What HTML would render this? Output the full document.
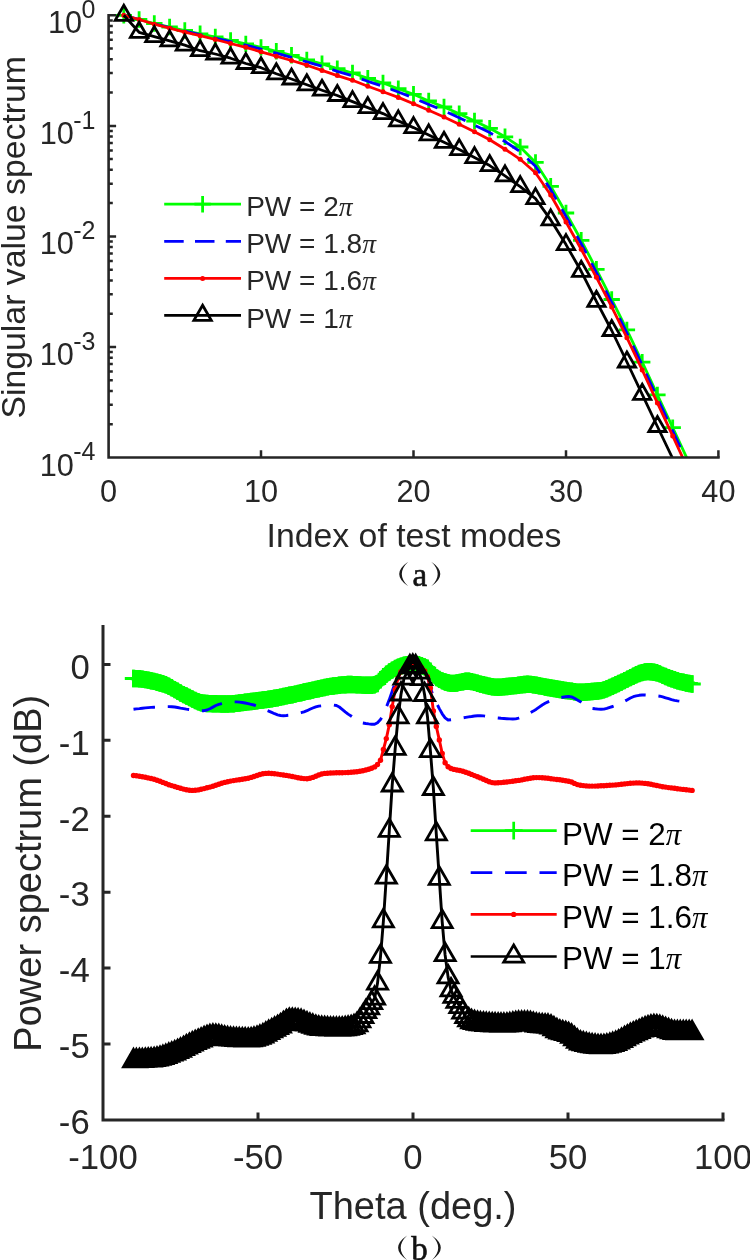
<!DOCTYPE html>
<html><head><meta charset="utf-8"><style>html,body{margin:0;padding:0;background:#fff;width:750px;height:1260px;overflow:hidden;position:relative}</style></head>
<body>
<svg width="750" height="1260" viewBox="0 0 750 1260" style="position:absolute;left:0;top:0;will-change:transform">
<rect width="750" height="1260" fill="#fff"/>
<defs><clipPath id="c1"><rect x="108.6" y="0" width="614.8" height="457.5"/></clipPath>
<clipPath id="c2"><rect x="0" y="0" width="750" height="1120"/></clipPath></defs>
<g clip-path="url(#c1)">
<path d="M123.8 15.3 L139.1 19.5 L154.3 23.5 L169.6 27 L184.8 30.5 L200.1 33.8 L215.3 37 L230.6 40.5 L245.8 43.9 L261 47.4 L276.3 51.3 L291.5 55.3 L306.8 59.9 L322 63.8 L337.3 68.6 L352.5 73 L367.8 78.3 L383 83 L398.3 88.7 L413.5 94.3 L428.7 101 L444 107 L459.2 113.7 L474.5 121 L489.7 128.3 L505 136.8 L520.2 147 L535.5 162.4 L550.7 186.3 L566 213 L581.2 240.3 L596.4 269.3 L611.7 299.5 L626.9 329.9 L642.2 362.2 L657.4 394.9 L672.7 427.6 L687.9 460.3" fill="none" stroke="#00ff00" stroke-width="2.8" stroke-linejoin="round"/>
<path d="M115.6 15.3H132M123.8 7.1V23.5M130.9 19.5H147.3M139.1 11.3V27.7M146.1 23.5H162.5M154.3 15.3V31.7M161.4 27H177.8M169.6 18.8V35.2M176.6 30.5H193M184.8 22.3V38.7M191.9 33.8H208.3M200.1 25.6V42M207.1 37H223.5M215.3 28.8V45.2M222.4 40.5H238.8M230.6 32.3V48.7M237.6 43.9H254M245.8 35.7V52.1M252.8 47.4H269.2M261 39.2V55.6M268.1 51.3H284.5M276.3 43.1V59.5M283.3 55.3H299.7M291.5 47.1V63.5M298.6 59.9H315M306.8 51.7V68.1M313.8 63.8H330.2M322 55.6V72M329.1 68.6H345.5M337.3 60.4V76.8M344.3 73H360.7M352.5 64.8V81.2M359.6 78.3H376M367.8 70.1V86.5M374.8 83H391.2M383 74.8V91.2M390.1 88.7H406.5M398.3 80.5V96.9M405.3 94.3H421.7M413.5 86.1V102.5M420.5 101H436.9M428.7 92.8V109.2M435.8 107H452.2M444 98.8V115.2M451 113.7H467.4M459.2 105.5V121.9M466.3 121H482.7M474.5 112.8V129.2M481.5 128.3H497.9M489.7 120.1V136.5M496.8 136.8H513.2M505 128.6V145M512 147H528.4M520.2 138.8V155.2M527.3 162.4H543.7M535.5 154.2V170.6M542.5 186.3H558.9M550.7 178.1V194.5M557.8 213H574.2M566 204.8V221.2M573 240.3H589.4M581.2 232.1V248.5M588.2 269.3H604.6M596.4 261.1V277.5M603.5 299.5H619.9M611.7 291.3V307.7M618.7 329.9H635.1M626.9 321.7V338.1M634 362.2H650.4M642.2 354V370.4M649.2 394.9H665.6M657.4 386.7V403.1M664.5 427.6H680.9M672.7 419.4V435.8" stroke="#00ff00" stroke-width="2.8" fill="none"/>
<path d="M123.8 15.3 L139.1 19.5 L154.3 23.8 L169.6 27.5 L184.8 31.1 L200.1 34.5 L215.3 38 L230.6 41.6 L245.8 45.2 L261 49.1 L276.3 53.2 L291.5 57.3 L306.8 61.9 L322 66.3 L337.3 71.3 L352.5 75.8 L367.8 81.3 L383 86.3 L398.3 92 L413.5 97.9 L428.7 104.5 L444 110.8 L459.2 117.7 L474.5 125.1 L489.7 132.6 L505 141.5 L520.2 151.7 L535.5 166.3 L550.7 189.6 L566 216.4 L581.2 243.7 L596.4 272.3 L611.7 302.3 L626.9 332.9 L642.2 365.1 L657.4 397.9 L672.7 430.8 L687.9 463.6" fill="none" stroke="#0000ff" stroke-width="2.8" stroke-linejoin="round" stroke-dasharray="19.5 11.3"/>
<path d="M123.8 15.3 L139.1 19.5 L154.3 24.2 L169.6 28.2 L184.8 32.2 L200.1 35.7 L215.3 39.5 L230.6 43.5 L245.8 47.3 L261 51.8 L276.3 56.2 L291.5 60.5 L306.8 65.2 L322 70.4 L337.3 75.6 L352.5 80.3 L367.8 86.3 L383 91.7 L398.3 97.4 L413.5 103.7 L428.7 110.2 L444 117 L459.2 124.3 L474.5 131.7 L489.7 139.7 L505 149.2 L520.2 159.3 L535.5 172.7 L550.7 195 L566 222 L581.2 249.3 L596.4 277.3 L611.7 306.9 L626.9 337.7 L642.2 369.9 L657.4 402.9 L672.7 435.9 L687.9 469" fill="none" stroke="#ff0000" stroke-width="2.8" stroke-linejoin="round"/>
<g fill="#ff0000"><circle cx="123.8" cy="15.3" r="2.5"/><circle cx="139.1" cy="19.5" r="2.5"/><circle cx="154.3" cy="24.2" r="2.5"/><circle cx="169.6" cy="28.2" r="2.5"/><circle cx="184.8" cy="32.2" r="2.5"/><circle cx="200.1" cy="35.7" r="2.5"/><circle cx="215.3" cy="39.5" r="2.5"/><circle cx="230.6" cy="43.5" r="2.5"/><circle cx="245.8" cy="47.3" r="2.5"/><circle cx="261" cy="51.8" r="2.5"/><circle cx="276.3" cy="56.2" r="2.5"/><circle cx="291.5" cy="60.5" r="2.5"/><circle cx="306.8" cy="65.2" r="2.5"/><circle cx="322" cy="70.4" r="2.5"/><circle cx="337.3" cy="75.6" r="2.5"/><circle cx="352.5" cy="80.3" r="2.5"/><circle cx="367.8" cy="86.3" r="2.5"/><circle cx="383" cy="91.7" r="2.5"/><circle cx="398.3" cy="97.4" r="2.5"/><circle cx="413.5" cy="103.7" r="2.5"/><circle cx="428.7" cy="110.2" r="2.5"/><circle cx="444" cy="117" r="2.5"/><circle cx="459.2" cy="124.3" r="2.5"/><circle cx="474.5" cy="131.7" r="2.5"/><circle cx="489.7" cy="139.7" r="2.5"/><circle cx="505" cy="149.2" r="2.5"/><circle cx="520.2" cy="159.3" r="2.5"/><circle cx="535.5" cy="172.7" r="2.5"/><circle cx="550.7" cy="195" r="2.5"/><circle cx="566" cy="222" r="2.5"/><circle cx="581.2" cy="249.3" r="2.5"/><circle cx="596.4" cy="277.3" r="2.5"/><circle cx="611.7" cy="306.9" r="2.5"/><circle cx="626.9" cy="337.7" r="2.5"/><circle cx="642.2" cy="369.9" r="2.5"/><circle cx="657.4" cy="402.9" r="2.5"/><circle cx="672.7" cy="435.9" r="2.5"/></g>
<path d="M123.8 15.3 L139.1 32.3 L154.3 36.6 L169.6 40.9 L184.8 45.1 L200.1 50.7 L215.3 54 L230.6 58.2 L245.8 63.5 L261 67.7 L276.3 73.8 L291.5 79 L306.8 84.8 L322 90.2 L337.3 95.5 L352.5 101.6 L367.8 107.6 L383 113.6 L398.3 120.9 L413.5 127.6 L428.7 134.9 L444 142.3 L459.2 149.6 L474.5 157.6 L489.7 165.6 L505 175.9 L520.2 186.6 L535.5 198.6 L550.7 219.9 L566 244.6 L581.2 271.3 L596.4 301.3 L611.7 330.5 L626.9 362 L642.2 394.3 L657.4 426.5 L672.7 458.5" fill="none" stroke="#000000" stroke-width="2.8" stroke-linejoin="round"/>
</g>
<path d="M123.8 5.3L132.5 20.3L115.2 20.3ZM139.1 22.3L147.8 37.3L130.4 37.3ZM154.3 26.6L163 41.6L145.7 41.6ZM169.6 30.9L178.2 45.9L160.9 45.9ZM184.8 35.1L193.5 50.1L176.2 50.1ZM200.1 40.7L208.7 55.7L191.4 55.7ZM215.3 44L224 59L206.7 59ZM230.6 48.2L239.2 63.2L221.9 63.2ZM245.8 53.5L254.5 68.5L237.1 68.5ZM261 57.7L269.7 72.7L252.4 72.7ZM276.3 63.8L285 78.8L267.6 78.8ZM291.5 69L300.2 84L282.9 84ZM306.8 74.8L315.4 89.8L298.1 89.8ZM322 80.2L330.7 95.2L313.4 95.2ZM337.3 85.5L345.9 100.5L328.6 100.5ZM352.5 91.6L361.2 106.6L343.9 106.6ZM367.8 97.6L376.4 112.6L359.1 112.6ZM383 103.6L391.7 118.6L374.3 118.6ZM398.3 110.9L406.9 125.9L389.6 125.9ZM413.5 117.6L422.2 132.6L404.8 132.6ZM428.7 124.9L437.4 139.9L420.1 139.9ZM444 132.3L452.7 147.3L435.3 147.3ZM459.2 139.6L467.9 154.6L450.6 154.6ZM474.5 147.6L483.1 162.6L465.8 162.6ZM489.7 155.6L498.4 170.6L481.1 170.6ZM505 165.9L513.6 180.9L496.3 180.9ZM520.2 176.6L528.9 191.6L511.6 191.6ZM535.5 188.6L544.1 203.6L526.8 203.6ZM550.7 209.9L559.4 224.9L542 224.9ZM566 234.6L574.6 249.6L557.3 249.6ZM581.2 261.3L589.9 276.3L572.5 276.3ZM596.4 291.3L605.1 306.3L587.8 306.3ZM611.7 320.5L620.3 335.5L603 335.5ZM626.9 352L635.6 367L618.3 367ZM642.2 384.3L650.8 399.3L633.5 399.3ZM657.4 416.5L666.1 431.5L648.8 431.5Z" stroke="#000" stroke-width="2.8" fill="none" stroke-linejoin="miter"/>
<g stroke="#262626" fill="none">
<path d="M108.6 14V457.5H719.7" stroke-width="2.6"/>
<path d="M108.6 424.2H112.8M108.6 404.8H112.8M108.6 390.9H112.8M108.6 380.2H112.8M108.6 371.5H112.8M108.6 364.1H112.8M108.6 357.7H112.8M108.6 352H112.8M108.6 346.9H116.1M108.6 313.7H112.8M108.6 294.2H112.8M108.6 280.4H112.8M108.6 269.7H112.8M108.6 260.9H112.8M108.6 253.5H112.8M108.6 247.1H112.8M108.6 241.5H112.8M108.6 236.4H116.1M108.6 203.1H112.8M108.6 183.7H112.8M108.6 169.8H112.8M108.6 159.1H112.8M108.6 150.4H112.8M108.6 143H112.8M108.6 136.6H112.8M108.6 130.9H112.8M108.6 125.9H116.1M108.6 92.6H112.8M108.6 73.1H112.8M108.6 59.3H112.8M108.6 48.6H112.8M108.6 39.8H112.8M108.6 32.4H112.8M108.6 26H112.8M108.6 20.4H112.8M108.6 15.3H116.1M261 457.5V450.3M413.5 457.5V450.3M566 457.5V450.3M718.4 457.5V450.3" stroke-width="2.5"/>
</g>
<g font-family="Liberation Sans" fill="#262626">
<text x="108.6" y="502" font-size="30.7" text-anchor="middle">0</text>
<text x="261" y="502" font-size="30.7" text-anchor="middle">10</text>
<text x="413.5" y="502" font-size="30.7" text-anchor="middle">20</text>
<text x="566" y="502" font-size="30.7" text-anchor="middle">30</text>
<text x="718.4" y="502" font-size="30.7" text-anchor="middle">40</text>
<text x="95.5" y="33.3" font-size="30.7" text-anchor="end">10<tspan font-size="25" dx="-0.5" dy="-15.3">0</tspan></text>
<text x="95.5" y="143.8" font-size="30.7" text-anchor="end">10<tspan font-size="25" dx="-0.5" dy="-15.3">-1</tspan></text>
<text x="95.5" y="254.4" font-size="30.7" text-anchor="end">10<tspan font-size="25" dx="-0.5" dy="-15.3">-2</tspan></text>
<text x="95.5" y="364.9" font-size="30.7" text-anchor="end">10<tspan font-size="25" dx="-0.5" dy="-15.3">-3</tspan></text>
<text x="95.5" y="475.5" font-size="30.7" text-anchor="end">10<tspan font-size="25" dx="-0.5" dy="-15.3">-4</tspan></text>
<text x="414" y="547" font-size="33.8" text-anchor="middle">Index of test modes</text>
<text transform="translate(25 237.3) rotate(-90)" font-size="33.8" text-anchor="middle">Singular value spectrum</text>
</g>
<path d="M164.2 204.2H241" stroke="#00ff00" stroke-width="2.8"/>
<path d="M194.4 204.2H210.8M202.6 196V212.4" stroke="#00ff00" stroke-width="2.8"/>
<path d="M164.2 241.4H241" stroke="#0000ff" stroke-width="2.8" stroke-dasharray="19.5 11.3"/>
<path d="M164.2 278.4H241" stroke="#ff0000" stroke-width="2.8"/>
<circle cx="202.6" cy="278.4" r="2.5" fill="#ff0000"/>
<path d="M164.2 315.3H241" stroke="#000" stroke-width="2.8"/>
<path d="M202.6 305.3L211.3 320.3L193.9 320.3Z" stroke="#000" stroke-width="2.8" fill="none"/>
<g font-family="Liberation Sans" font-size="28" fill="#262626">
<text x="246.2" y="216">PW = 2<tspan font-family="Liberation Serif" font-style="italic" font-size="27.5">π</tspan></text>
<text x="246.2" y="253.4">PW = 1.8<tspan font-family="Liberation Serif" font-style="italic" font-size="27.5">π</tspan></text>
<text x="246.2" y="290.4">PW = 1.6<tspan font-family="Liberation Serif" font-style="italic" font-size="27.5">π</tspan></text>
<text x="246.2" y="328.4">PW = 1<tspan font-family="Liberation Serif" font-style="italic" font-size="27.5">π</tspan></text>
</g>
<path d="M408.2 561.7 Q390.2 574 408.2 586.3 Q395.4 574 408.2 561.7 Z" fill="#1a1a1a"/><path d="M431.3 561.7 Q449.3 574 431.3 586.3 Q444.1 574 431.3 561.7 Z" fill="#1a1a1a"/><text x="419.8" y="585.7" font-family="Liberation Serif" font-size="33" text-anchor="middle" fill="#111" stroke="#111" stroke-width="0.6">a</text>
<g clip-path="url(#c2)">
<path d="M133.5 678.5 L136.4 678.6 L139.4 678.8 L142.3 679.1 L145.3 679.6 L148.2 680.1 L151.1 680.8 L154.1 681.4 L157 682.2 L160 683 L162.9 683.8 L165.8 684.8 L168.8 686.2 L171.7 687.8 L174.7 689.6 L177.6 691.3 L180.5 693 L183.5 694.6 L186.4 696 L189.4 697.5 L192.3 699 L195.2 700.5 L198.2 701.7 L201.1 702.7 L204.1 703.3 L207 703.5 L209.9 703.6 L212.9 703.7 L215.8 703.8 L218.8 703.9 L221.7 704 L224.6 704 L227.6 704 L230.5 703.9 L233.5 703.7 L236.4 703.4 L239.3 703 L242.3 702.6 L245.2 702.2 L248.2 701.9 L251.1 701.5 L254 701.2 L257 700.8 L259.9 700.4 L262.9 700 L265.8 699.6 L268.7 699.2 L271.7 698.7 L274.6 698.2 L277.6 697.7 L280.5 697.1 L283.4 696.5 L286.4 695.9 L289.3 695.3 L292.3 694.7 L295.2 694.1 L298.1 693.4 L301.1 692.7 L304 692 L307 691.4 L309.9 690.7 L312.8 690.1 L315.8 689.4 L318.7 688.8 L321.7 688.1 L324.6 687.5 L327.5 686.9 L330.5 686.4 L333.4 686 L336.4 685.6 L339.3 685.3 L342.2 684.9 L345.2 684.7 L348.1 684.5 L351.1 684.5 L354 684.6 L356.9 684.7 L359.9 684.9 L362.8 685.1 L365.8 685.2 L368.7 685.3 L371.6 685.2 L374.6 684.8 L377.5 683.5 L380.5 679.8 L383.4 676.7 L386.3 674.2 L389.3 672 L392.2 670.1 L395.2 668.4 L398.1 667.1 L401 666.1 L404 665.3 L406.9 664.7 L409.9 664.2 L412.8 664 L415.7 664.2 L418.7 664.8 L421.6 665.7 L424.6 666.9 L427.5 668.3 L430.4 671.2 L433.4 674.8 L436.3 677.6 L439.3 679.4 L442.2 680.9 L445.1 682 L448.1 682.8 L451 683.4 L454 683.4 L456.9 683 L459.8 682.4 L462.8 681.8 L465.7 681.3 L468.7 681.2 L471.6 681.6 L474.5 682.4 L477.5 683.3 L480.4 684.1 L483.4 684.8 L486.3 685.5 L489.2 686.2 L492.2 686.8 L495.1 687.1 L498.1 687.2 L501 687.1 L503.9 686.8 L506.9 686.5 L509.8 686.2 L512.8 685.9 L515.7 685.6 L518.6 685.2 L521.6 684.8 L524.5 684.5 L527.5 684.3 L530.4 684.4 L533.3 684.7 L536.3 685.2 L539.2 685.7 L542.2 686.4 L545.1 687 L548 687.5 L551 688 L553.9 688.5 L556.9 689 L559.8 689.5 L562.7 690 L565.7 690.5 L568.6 690.9 L571.6 691.3 L574.5 691.8 L577.4 692.2 L580.4 692.3 L583.3 692.2 L586.3 692 L589.2 691.8 L592.1 691.5 L595.1 691.3 L598 691 L601 690.6 L603.9 689.9 L606.8 688.8 L609.8 687.5 L612.7 686.2 L615.7 684.8 L618.6 683.5 L621.5 682.1 L624.5 680.6 L627.4 679.1 L630.4 677.6 L633.3 676.2 L636.2 674.7 L639.2 673.5 L642.1 672.6 L645.1 671.9 L648 671.6 L650.9 671.8 L653.9 672.2 L656.8 672.8 L659.8 673.9 L662.7 675.4 L665.6 676.5 L668.6 677.7 L671.5 678.8 L674.5 679.8 L677.4 680.8 L680.3 681.6 L683.3 682.3 L686.2 683 L689.2 683.5 L692.1 684" fill="none" stroke="#00ff00" stroke-width="2.9" stroke-linejoin="round"/>
<path d="M124.8 678.5H142.2M133.5 669.8V687.2M127.7 678.6H145.1M136.4 669.9V687.3M130.7 678.8H148.1M139.4 670.1V687.5M133.6 679.1H151M142.3 670.4V687.8M136.6 679.6H154M145.3 670.9V688.3M139.5 680.1H156.9M148.2 671.4V688.8M142.4 680.8H159.8M151.1 672.1V689.5M145.4 681.4H162.8M154.1 672.7V690.1M148.3 682.2H165.7M157 673.5V690.9M151.3 683H168.7M160 674.3V691.7M154.2 683.8H171.6M162.9 675.1V692.5M157.1 684.8H174.5M165.8 676.1V693.5M160.1 686.2H177.5M168.8 677.5V694.9M163 687.8H180.4M171.7 679.1V696.5M166 689.6H183.4M174.7 680.9V698.3M168.9 691.3H186.3M177.6 682.6V700M171.8 693H189.2M180.5 684.3V701.7M174.8 694.6H192.2M183.5 685.9V703.3M177.7 696H195.1M186.4 687.3V704.7M180.7 697.5H198.1M189.4 688.8V706.2M183.6 699H201M192.3 690.3V707.7M186.5 700.5H203.9M195.2 691.8V709.2M189.5 701.7H206.9M198.2 693V710.4M192.4 702.7H209.8M201.1 694V711.4M195.4 703.3H212.8M204.1 694.6V712M198.3 703.5H215.7M207 694.8V712.2M201.2 703.6H218.6M209.9 694.9V712.3M204.2 703.7H221.6M212.9 695V712.4M207.1 703.8H224.5M215.8 695.1V712.5M210.1 703.9H227.5M218.8 695.2V712.6M213 704H230.4M221.7 695.3V712.7M215.9 704H233.3M224.6 695.3V712.7M218.9 704H236.3M227.6 695.3V712.7M221.8 703.9H239.2M230.5 695.2V712.6M224.8 703.7H242.2M233.5 695V712.4M227.7 703.4H245.1M236.4 694.7V712.1M230.6 703H248M239.3 694.3V711.7M233.6 702.6H251M242.3 693.9V711.3M236.5 702.2H253.9M245.2 693.5V710.9M239.5 701.9H256.9M248.2 693.2V710.6M242.4 701.5H259.8M251.1 692.8V710.2M245.3 701.2H262.7M254 692.5V709.9M248.3 700.8H265.7M257 692.1V709.5M251.2 700.4H268.6M259.9 691.7V709.1M254.2 700H271.6M262.9 691.3V708.7M257.1 699.6H274.5M265.8 690.9V708.3M260 699.2H277.4M268.7 690.5V707.9M263 698.7H280.4M271.7 690V707.4M265.9 698.2H283.3M274.6 689.5V706.9M268.9 697.7H286.3M277.6 689V706.4M271.8 697.1H289.2M280.5 688.4V705.8M274.7 696.5H292.1M283.4 687.8V705.2M277.7 695.9H295.1M286.4 687.2V704.6M280.6 695.3H298M289.3 686.6V704M283.6 694.7H301M292.3 686V703.4M286.5 694.1H303.9M295.2 685.4V702.8M289.4 693.4H306.8M298.1 684.7V702.1M292.4 692.7H309.8M301.1 684V701.4M295.3 692H312.7M304 683.3V700.7M298.3 691.4H315.7M307 682.7V700.1M301.2 690.7H318.6M309.9 682V699.4M304.1 690.1H321.5M312.8 681.4V698.8M307.1 689.4H324.5M315.8 680.7V698.1M310 688.8H327.4M318.7 680.1V697.5M313 688.1H330.4M321.7 679.4V696.8M315.9 687.5H333.3M324.6 678.8V696.2M318.8 686.9H336.2M327.5 678.2V695.6M321.8 686.4H339.2M330.5 677.7V695.1M324.7 686H342.1M333.4 677.3V694.7M327.7 685.6H345.1M336.4 676.9V694.3M330.6 685.3H348M339.3 676.6V694M333.5 684.9H350.9M342.2 676.2V693.6M336.5 684.7H353.9M345.2 676V693.4M339.4 684.5H356.8M348.1 675.8V693.2M342.4 684.5H359.8M351.1 675.8V693.2M345.3 684.6H362.7M354 675.9V693.3M348.2 684.7H365.6M356.9 676V693.4M351.2 684.9H368.6M359.9 676.2V693.6M354.1 685.1H371.5M362.8 676.4V693.8M357.1 685.2H374.5M365.8 676.5V693.9M360 685.3H377.4M368.7 676.6V694M362.9 685.2H380.3M371.6 676.5V693.9M365.9 684.8H383.3M374.6 676.1V693.5M368.8 683.5H386.2M377.5 674.8V692.2M371.8 679.8H389.2M380.5 671.1V688.5M374.7 676.7H392.1M383.4 668V685.4M377.6 674.2H395M386.3 665.5V682.9M380.6 672H398M389.3 663.3V680.7M383.5 670.1H400.9M392.2 661.4V678.8M386.5 668.4H403.9M395.2 659.7V677.1M389.4 667.1H406.8M398.1 658.4V675.8M392.3 666.1H409.7M401 657.4V674.8M395.3 665.3H412.7M404 656.6V674M398.2 664.7H415.6M406.9 656V673.4M401.2 664.2H418.6M409.9 655.5V672.9M404.1 664H421.5M412.8 655.3V672.7M407 664.2H424.4M415.7 655.5V672.9M410 664.8H427.4M418.7 656.1V673.5M412.9 665.7H430.3M421.6 657V674.4M415.9 666.9H433.3M424.6 658.2V675.6M418.8 668.3H436.2M427.5 659.6V677M421.7 671.2H439.1M430.4 662.5V679.9M424.7 674.8H442.1M433.4 666.1V683.5M427.6 677.6H445M436.3 668.9V686.3M430.6 679.4H448M439.3 670.7V688.1M433.5 680.9H450.9M442.2 672.2V689.6M436.4 682H453.8M445.1 673.3V690.7M439.4 682.8H456.8M448.1 674.1V691.5M442.3 683.4H459.7M451 674.7V692.1M445.3 683.4H462.7M454 674.7V692.1M448.2 683H465.6M456.9 674.3V691.7M451.1 682.4H468.5M459.8 673.7V691.1M454.1 681.8H471.5M462.8 673.1V690.5M457 681.3H474.4M465.7 672.6V690M460 681.2H477.4M468.7 672.5V689.9M462.9 681.6H480.3M471.6 672.9V690.3M465.8 682.4H483.2M474.5 673.7V691.1M468.8 683.3H486.2M477.5 674.6V692M471.7 684.1H489.1M480.4 675.4V692.8M474.7 684.8H492.1M483.4 676.1V693.5M477.6 685.5H495M486.3 676.8V694.2M480.5 686.2H497.9M489.2 677.5V694.9M483.5 686.8H500.9M492.2 678.1V695.5M486.4 687.1H503.8M495.1 678.4V695.8M489.4 687.2H506.8M498.1 678.5V695.9M492.3 687.1H509.7M501 678.4V695.8M495.2 686.8H512.6M503.9 678.1V695.5M498.2 686.5H515.6M506.9 677.8V695.2M501.1 686.2H518.5M509.8 677.5V694.9M504.1 685.9H521.5M512.8 677.2V694.6M507 685.6H524.4M515.7 676.9V694.3M509.9 685.2H527.3M518.6 676.5V693.9M512.9 684.8H530.3M521.6 676.1V693.5M515.8 684.5H533.2M524.5 675.8V693.2M518.8 684.3H536.2M527.5 675.6V693M521.7 684.4H539.1M530.4 675.7V693.1M524.6 684.7H542M533.3 676V693.4M527.6 685.2H545M536.3 676.5V693.9M530.5 685.7H547.9M539.2 677V694.4M533.5 686.4H550.9M542.2 677.7V695.1M536.4 687H553.8M545.1 678.3V695.7M539.3 687.5H556.7M548 678.8V696.2M542.3 688H559.7M551 679.3V696.7M545.2 688.5H562.6M553.9 679.8V697.2M548.2 689H565.6M556.9 680.3V697.7M551.1 689.5H568.5M559.8 680.8V698.2M554 690H571.4M562.7 681.3V698.7M557 690.5H574.4M565.7 681.8V699.2M559.9 690.9H577.3M568.6 682.2V699.6M562.9 691.3H580.3M571.6 682.6V700M565.8 691.8H583.2M574.5 683.1V700.5M568.7 692.2H586.1M577.4 683.5V700.9M571.7 692.3H589.1M580.4 683.6V701M574.6 692.2H592M583.3 683.5V700.9M577.6 692H595M586.3 683.3V700.7M580.5 691.8H597.9M589.2 683.1V700.5M583.4 691.5H600.8M592.1 682.8V700.2M586.4 691.3H603.8M595.1 682.6V700M589.3 691H606.7M598 682.3V699.7M592.3 690.6H609.7M601 681.9V699.3M595.2 689.9H612.6M603.9 681.2V698.6M598.1 688.8H615.5M606.8 680.1V697.5M601.1 687.5H618.5M609.8 678.8V696.2M604 686.2H621.4M612.7 677.5V694.9M607 684.8H624.4M615.7 676.1V693.5M609.9 683.5H627.3M618.6 674.8V692.2M612.8 682.1H630.2M621.5 673.4V690.8M615.8 680.6H633.2M624.5 671.9V689.3M618.7 679.1H636.1M627.4 670.4V687.8M621.7 677.6H639.1M630.4 668.9V686.3M624.6 676.2H642M633.3 667.5V684.9M627.5 674.7H644.9M636.2 666V683.4M630.5 673.5H647.9M639.2 664.8V682.2M633.4 672.6H650.8M642.1 663.9V681.3M636.4 671.9H653.8M645.1 663.2V680.6M639.3 671.6H656.7M648 662.9V680.3M642.2 671.8H659.6M650.9 663.1V680.5M645.2 672.2H662.6M653.9 663.5V680.9M648.1 672.8H665.5M656.8 664.1V681.5M651.1 673.9H668.5M659.8 665.2V682.6M654 675.4H671.4M662.7 666.7V684.1M656.9 676.5H674.3M665.6 667.8V685.2M659.9 677.7H677.3M668.6 669V686.4M662.8 678.8H680.2M671.5 670.1V687.5M665.8 679.8H683.2M674.5 671.1V688.5M668.7 680.8H686.1M677.4 672.1V689.5M671.6 681.6H689M680.3 672.9V690.3M674.6 682.3H692M683.3 673.6V691M677.5 683H694.9M686.2 674.3V691.7M680.5 683.5H697.9M689.2 674.8V692.2M683.4 684H700.8M692.1 675.3V692.7" stroke="#00ff00" stroke-width="2.9" fill="none"/>
<path d="M132.2 669.8 L133.5 669.8 L136.4 669.9 L139.4 670.1 L142.3 670.4 L145.3 670.9 L148.2 671.4 L151.1 672.1 L154.1 672.7 L157 673.5 L160 674.3 L162.9 675.1 L165.8 676.1 L168.8 677.5 L171.7 679.1 L174.7 680.9 L177.6 682.6 L180.5 684.3 L183.5 685.9 L186.4 687.3 L189.4 688.8 L192.3 690.3 L195.2 691.8 L198.2 693 L201.1 694 L204.1 694.6 L207 694.8 L209.9 694.9 L212.9 695 L215.8 695.1 L218.8 695.2 L221.7 695.3 L224.6 695.3 L227.6 695.3 L230.5 695.2 L233.5 695 L236.4 694.7 L239.3 694.3 L242.3 693.9 L245.2 693.5 L248.2 693.2 L251.1 692.8 L254 692.5 L257 692.1 L259.9 691.7 L262.9 691.3 L265.8 690.9 L268.7 690.5 L271.7 690 L274.6 689.5 L277.6 689 L280.5 688.4 L283.4 687.8 L286.4 687.2 L289.3 686.6 L292.3 686 L295.2 685.4 L298.1 684.7 L301.1 684 L304 683.3 L307 682.7 L309.9 682 L312.8 681.4 L315.8 680.7 L318.7 680.1 L321.7 679.4 L324.6 678.8 L327.5 678.2 L330.5 677.7 L333.4 677.3 L336.4 676.9 L339.3 676.6 L342.2 676.2 L345.2 676 L348.1 675.8 L351.1 675.8 L354 675.9 L356.9 676 L359.9 676.2 L362.8 676.4 L365.8 676.5 L368.7 676.6 L371.6 676.5 L374.6 676.1 L377.5 674.8 L380.5 671.1 L383.4 668 L386.3 665.5 L389.3 663.3 L392.2 661.4 L395.2 659.7 L398.1 658.4 L401 657.4 L404 656.6 L406.9 656 L409.9 655.5 L412.8 655.3 L415.7 655.5 L418.7 656.1 L421.6 657 L424.6 658.2 L427.5 659.6 L430.4 662.5 L433.4 666.1 L436.3 668.9 L439.3 670.7 L442.2 672.2 L445.1 673.3 L448.1 674.1 L451 674.7 L454 674.7 L456.9 674.3 L459.8 673.7 L462.8 673.1 L465.7 672.6 L468.7 672.5 L471.6 672.9 L474.5 673.7 L477.5 674.6 L480.4 675.4 L483.4 676.1 L486.3 676.8 L489.2 677.5 L492.2 678.1 L495.1 678.4 L498.1 678.5 L501 678.4 L503.9 678.1 L506.9 677.8 L509.8 677.5 L512.8 677.2 L515.7 676.9 L518.6 676.5 L521.6 676.1 L524.5 675.8 L527.5 675.6 L530.4 675.7 L533.3 676 L536.3 676.5 L539.2 677 L542.2 677.7 L545.1 678.3 L548 678.8 L551 679.3 L553.9 679.8 L556.9 680.3 L559.8 680.8 L562.7 681.3 L565.7 681.8 L568.6 682.2 L571.6 682.6 L574.5 683.1 L577.4 683.5 L580.4 683.6 L583.3 683.5 L586.3 683.3 L589.2 683.1 L592.1 682.8 L595.1 682.6 L598 682.3 L601 681.9 L603.9 681.2 L606.8 680.1 L609.8 678.8 L612.7 677.5 L615.7 676.1 L618.6 674.8 L621.5 673.4 L624.5 671.9 L627.4 670.4 L630.4 668.9 L633.3 667.5 L636.2 666 L639.2 664.8 L642.1 663.9 L645.1 663.2 L648 662.9 L650.9 663.1 L653.9 663.5 L656.8 664.1 L659.8 665.2 L662.7 666.7 L665.6 667.8 L668.6 669 L671.5 670.1 L674.5 671.1 L677.4 672.1 L680.3 672.9 L683.3 673.6 L686.2 674.3 L689.2 674.8 L692.1 675.3 L693.5 675.3 L693.5 692.7 L692.1 692.7 L689.2 692.2 L686.2 691.7 L683.3 691 L680.3 690.3 L677.4 689.5 L674.5 688.5 L671.5 687.5 L668.6 686.4 L665.6 685.2 L662.7 684.1 L659.8 682.6 L656.8 681.5 L653.9 680.9 L650.9 680.5 L648 680.3 L645.1 680.6 L642.1 681.3 L639.2 682.2 L636.2 683.4 L633.3 684.9 L630.4 686.3 L627.4 687.8 L624.5 689.3 L621.5 690.8 L618.6 692.2 L615.7 693.5 L612.7 694.9 L609.8 696.2 L606.8 697.5 L603.9 698.6 L601 699.3 L598 699.7 L595.1 700 L592.1 700.2 L589.2 700.5 L586.3 700.7 L583.3 700.9 L580.4 701 L577.4 700.9 L574.5 700.5 L571.6 700 L568.6 699.6 L565.7 699.2 L562.7 698.7 L559.8 698.2 L556.9 697.7 L553.9 697.2 L551 696.7 L548 696.2 L545.1 695.7 L542.2 695.1 L539.2 694.4 L536.3 693.9 L533.3 693.4 L530.4 693.1 L527.5 693 L524.5 693.2 L521.6 693.5 L518.6 693.9 L515.7 694.3 L512.8 694.6 L509.8 694.9 L506.9 695.2 L503.9 695.5 L501 695.8 L498.1 695.9 L495.1 695.8 L492.2 695.5 L489.2 694.9 L486.3 694.2 L483.4 693.5 L480.4 692.8 L477.5 692 L474.5 691.1 L471.6 690.3 L468.7 689.9 L465.7 690 L462.8 690.5 L459.8 691.1 L456.9 691.7 L454 692.1 L451 692.1 L448.1 691.5 L445.1 690.7 L442.2 689.6 L439.3 688.1 L436.3 686.3 L433.4 683.5 L430.4 679.9 L427.5 677 L424.6 675.6 L421.6 674.4 L418.7 673.5 L415.7 672.9 L412.8 672.7 L409.9 672.9 L406.9 673.4 L404 674 L401 674.8 L398.1 675.8 L395.2 677.1 L392.2 678.8 L389.3 680.7 L386.3 682.9 L383.4 685.4 L380.5 688.5 L377.5 692.2 L374.6 693.5 L371.6 693.9 L368.7 694 L365.8 693.9 L362.8 693.8 L359.9 693.6 L356.9 693.4 L354 693.3 L351.1 693.2 L348.1 693.2 L345.2 693.4 L342.2 693.6 L339.3 694 L336.4 694.3 L333.4 694.7 L330.5 695.1 L327.5 695.6 L324.6 696.2 L321.7 696.8 L318.7 697.5 L315.8 698.1 L312.8 698.8 L309.9 699.4 L307 700.1 L304 700.7 L301.1 701.4 L298.1 702.1 L295.2 702.8 L292.3 703.4 L289.3 704 L286.4 704.6 L283.4 705.2 L280.5 705.8 L277.6 706.4 L274.6 706.9 L271.7 707.4 L268.7 707.9 L265.8 708.3 L262.9 708.7 L259.9 709.1 L257 709.5 L254 709.9 L251.1 710.2 L248.2 710.6 L245.2 710.9 L242.3 711.3 L239.3 711.7 L236.4 712.1 L233.5 712.4 L230.5 712.6 L227.6 712.7 L224.6 712.7 L221.7 712.7 L218.8 712.6 L215.8 712.5 L212.9 712.4 L209.9 712.3 L207 712.2 L204.1 712 L201.1 711.4 L198.2 710.4 L195.2 709.2 L192.3 707.7 L189.4 706.2 L186.4 704.7 L183.5 703.3 L180.5 701.7 L177.6 700 L174.7 698.3 L171.7 696.5 L168.8 694.9 L165.8 693.5 L162.9 692.5 L160 691.7 L157 690.9 L154.1 690.1 L151.1 689.5 L148.2 688.8 L145.3 688.3 L142.3 687.8 L139.4 687.5 L136.4 687.3 L133.5 687.2 L132.2 687.2Z" fill="#00ff00"/>
<path d="M133.5 709.3 L136.4 708.9 L139.4 708.6 L142.3 708.2 L145.3 707.9 L148.2 707.6 L151.1 707.4 L154.1 707.2 L157 707 L160 706.9 L162.9 706.7 L165.8 706.6 L168.8 706.6 L171.7 706.7 L174.7 707 L177.6 707.5 L180.5 708.1 L183.5 708.6 L186.4 709.1 L189.4 709.5 L192.3 709.9 L195.2 710.2 L198.2 710.6 L201.1 710.8 L204.1 710.7 L207 710 L209.9 708.7 L212.9 707.1 L215.8 705.5 L218.8 704.3 L221.7 703.7 L224.6 703.1 L227.6 702.6 L230.5 702.2 L233.5 701.9 L236.4 701.9 L239.3 702.1 L242.3 702.5 L245.2 703 L248.2 703.6 L251.1 704.3 L254 705 L257 706 L259.9 707.2 L262.9 708.6 L265.8 709.9 L268.7 711.1 L271.7 712.4 L274.6 713.7 L277.6 714.8 L280.5 715.5 L283.4 715.7 L286.4 715.5 L289.3 715.2 L292.3 714.7 L295.2 714.1 L298.1 713.4 L301.1 712.7 L304 711.9 L307 710.7 L309.9 709.3 L312.8 708 L315.8 706.8 L318.7 706.1 L321.7 705.8 L324.6 705.5 L327.5 705.2 L330.5 705.1 L333.4 705 L336.4 705.5 L339.3 707 L342.2 709.3 L345.2 711.8 L348.1 714.1 L351.1 716 L354 718.1 L356.9 720.1 L359.9 721.8 L362.8 723 L365.8 723.5 L368.7 723.9 L371.6 724.2 L374.6 724.3 L377.5 722.8 L380.5 719.6 L383.4 714.8 L386.3 707.4 L389.3 699.6 L392.2 691.1 L395.2 683.1 L398.1 675.5 L401 670.6 L404 667.3 L406.9 665.7 L409.9 664.8 L412.8 664.4 L415.7 664.7 L418.7 665.5 L421.6 666.9 L424.6 669.9 L427.5 676.3 L430.4 688.2 L433.4 696.1 L436.3 702.6 L439.3 708.6 L442.2 713.8 L445.1 717.9 L448.1 720 L451 719.8 L454 719.4 L456.9 718.9 L459.8 718.4 L462.8 717.9 L465.7 717.4 L468.7 716.9 L471.6 716.5 L474.5 716 L477.5 715.8 L480.4 715.7 L483.4 715.9 L486.3 716.3 L489.2 716.8 L492.2 717.3 L495.1 717.7 L498.1 718 L501 718.3 L503.9 718.5 L506.9 718.7 L509.8 718.9 L512.8 719 L515.7 718.9 L518.6 718.2 L521.6 717.1 L524.5 715.8 L527.5 714.2 L530.4 712.7 L533.3 711.1 L536.3 709.2 L539.2 707.1 L542.2 705 L545.1 703.3 L548 701.9 L551 700.7 L553.9 699.5 L556.9 698.6 L559.8 697.8 L562.7 697.2 L565.7 696.8 L568.6 696.5 L571.6 696.9 L574.5 698.3 L577.4 700 L580.4 701.7 L583.3 703.8 L586.3 705.9 L589.2 707.6 L592.1 708.4 L595.1 708.8 L598 709.1 L601 709.3 L603.9 709.1 L606.8 708.4 L609.8 707.4 L612.7 706.5 L615.7 705.3 L618.6 704 L621.5 702.7 L624.5 701.3 L627.4 699.7 L630.4 698 L633.3 696.7 L636.2 695.9 L639.2 695.3 L642.1 695 L645.1 695 L648 695.2 L650.9 695.3 L653.9 695.6 L656.8 695.8 L659.8 696.2 L662.7 696.9 L665.6 697.8 L668.6 698.7 L671.5 699.6 L674.5 700.4 L677.4 700.9 L680.3 701.3 L683.3 701.7 L686.2 702 L689.2 702.2 L692.1 702.4" fill="none" stroke="#0000ff" stroke-width="2.9" stroke-dasharray="21.6 12.8" stroke-linejoin="round"/>
<path d="M133.5 775.5 L136.4 775.8 L139.4 776.2 L142.3 776.7 L145.3 777.3 L148.2 777.9 L151.1 778.5 L154.1 779.2 L157 780.2 L160 781.2 L162.9 782.4 L165.8 783.5 L168.8 784.7 L171.7 785.6 L174.7 786.5 L177.6 787.4 L180.5 788.2 L183.5 789.1 L186.4 789.7 L189.4 790.2 L192.3 790.4 L195.2 790.3 L198.2 789.9 L201.1 789.3 L204.1 788.6 L207 787.8 L209.9 787.1 L212.9 786.3 L215.8 785.3 L218.8 784.3 L221.7 783.3 L224.6 782.4 L227.6 781.7 L230.5 781.1 L233.5 780.6 L236.4 780.1 L239.3 779.7 L242.3 779.2 L245.2 778.7 L248.2 778.2 L251.1 777.4 L254 776.5 L257 775.5 L259.9 774.5 L262.9 773.8 L265.8 773.4 L268.7 773.3 L271.7 773.5 L274.6 773.8 L277.6 774.1 L280.5 774.6 L283.4 775 L286.4 775.4 L289.3 775.9 L292.3 776.5 L295.2 777.1 L298.1 777.7 L301.1 778.3 L304 778.6 L307 778.7 L309.9 778.2 L312.8 777.4 L315.8 776.2 L318.7 775 L321.7 774 L324.6 773.4 L327.5 773.2 L330.5 773 L333.4 772.9 L336.4 772.8 L339.3 772.8 L342.2 772.7 L345.2 772.6 L348.1 772.5 L351.1 772.3 L354 772 L356.9 771.7 L359.9 771.2 L362.8 770.7 L365.8 770 L368.7 769.2 L371.6 768.3 L374.6 766.9 L377.5 764.5 L380.5 760.3 L383.4 749.5 L386.3 738.6 L389.3 724.8 L392.2 706.6 L395.2 689.5 L398.1 678.1 L401 671.7 L404 668.1 L406.9 666 L409.9 664.9 L412.8 664.4 L415.7 664.8 L418.7 665.8 L421.6 667.7 L424.6 670.9 L427.5 676.7 L430.4 687.9 L433.4 711 L436.3 726.5 L439.3 739.9 L442.2 753.4 L445.1 762.8 L448.1 766.7 L451 768.5 L454 769.4 L456.9 770 L459.8 770.5 L462.8 771.2 L465.7 772.2 L468.7 773.3 L471.6 774.4 L474.5 775.6 L477.5 776.8 L480.4 777.9 L483.4 779.2 L486.3 780.5 L489.2 781.8 L492.2 782.6 L495.1 782.9 L498.1 782.8 L501 782.6 L503.9 782.3 L506.9 782 L509.8 781.6 L512.8 781.2 L515.7 780.8 L518.6 780.4 L521.6 779.9 L524.5 779.3 L527.5 778.7 L530.4 778.2 L533.3 777.8 L536.3 777.6 L539.2 777.6 L542.2 777.8 L545.1 778 L548 778.3 L551 778.7 L553.9 779.1 L556.9 779.5 L559.8 779.8 L562.7 780.2 L565.7 780.7 L568.6 781.2 L571.6 782 L574.5 783.4 L577.4 784.6 L580.4 785.2 L583.3 785.6 L586.3 785.9 L589.2 786.1 L592.1 786.1 L595.1 786.1 L598 786 L601 785.8 L603.9 785.7 L606.8 785.5 L609.8 785.3 L612.7 785.1 L615.7 784.9 L618.6 784.6 L621.5 784.3 L624.5 783.9 L627.4 783.6 L630.4 783.3 L633.3 783.1 L636.2 782.9 L639.2 782.9 L642.1 783.1 L645.1 783.4 L648 783.8 L650.9 784.3 L653.9 784.9 L656.8 785.5 L659.8 786.1 L662.7 786.7 L665.6 787.1 L668.6 787.6 L671.5 787.9 L674.5 788.3 L677.4 788.7 L680.3 789.1 L683.3 789.4 L686.2 789.8 L689.2 790.1 L692.1 790.4" fill="none" stroke="#ff0000" stroke-width="2.9" stroke-linejoin="round"/>
<g fill="#ff0000"><circle cx="133.5" cy="775.5" r="2.7"/><circle cx="136.4" cy="775.8" r="2.7"/><circle cx="139.4" cy="776.2" r="2.7"/><circle cx="142.3" cy="776.7" r="2.7"/><circle cx="145.3" cy="777.3" r="2.7"/><circle cx="148.2" cy="777.9" r="2.7"/><circle cx="151.1" cy="778.5" r="2.7"/><circle cx="154.1" cy="779.2" r="2.7"/><circle cx="157" cy="780.2" r="2.7"/><circle cx="160" cy="781.2" r="2.7"/><circle cx="162.9" cy="782.4" r="2.7"/><circle cx="165.8" cy="783.5" r="2.7"/><circle cx="168.8" cy="784.7" r="2.7"/><circle cx="171.7" cy="785.6" r="2.7"/><circle cx="174.7" cy="786.5" r="2.7"/><circle cx="177.6" cy="787.4" r="2.7"/><circle cx="180.5" cy="788.2" r="2.7"/><circle cx="183.5" cy="789.1" r="2.7"/><circle cx="186.4" cy="789.7" r="2.7"/><circle cx="189.4" cy="790.2" r="2.7"/><circle cx="192.3" cy="790.4" r="2.7"/><circle cx="195.2" cy="790.3" r="2.7"/><circle cx="198.2" cy="789.9" r="2.7"/><circle cx="201.1" cy="789.3" r="2.7"/><circle cx="204.1" cy="788.6" r="2.7"/><circle cx="207" cy="787.8" r="2.7"/><circle cx="209.9" cy="787.1" r="2.7"/><circle cx="212.9" cy="786.3" r="2.7"/><circle cx="215.8" cy="785.3" r="2.7"/><circle cx="218.8" cy="784.3" r="2.7"/><circle cx="221.7" cy="783.3" r="2.7"/><circle cx="224.6" cy="782.4" r="2.7"/><circle cx="227.6" cy="781.7" r="2.7"/><circle cx="230.5" cy="781.1" r="2.7"/><circle cx="233.5" cy="780.6" r="2.7"/><circle cx="236.4" cy="780.1" r="2.7"/><circle cx="239.3" cy="779.7" r="2.7"/><circle cx="242.3" cy="779.2" r="2.7"/><circle cx="245.2" cy="778.7" r="2.7"/><circle cx="248.2" cy="778.2" r="2.7"/><circle cx="251.1" cy="777.4" r="2.7"/><circle cx="254" cy="776.5" r="2.7"/><circle cx="257" cy="775.5" r="2.7"/><circle cx="259.9" cy="774.5" r="2.7"/><circle cx="262.9" cy="773.8" r="2.7"/><circle cx="265.8" cy="773.4" r="2.7"/><circle cx="268.7" cy="773.3" r="2.7"/><circle cx="271.7" cy="773.5" r="2.7"/><circle cx="274.6" cy="773.8" r="2.7"/><circle cx="277.6" cy="774.1" r="2.7"/><circle cx="280.5" cy="774.6" r="2.7"/><circle cx="283.4" cy="775" r="2.7"/><circle cx="286.4" cy="775.4" r="2.7"/><circle cx="289.3" cy="775.9" r="2.7"/><circle cx="292.3" cy="776.5" r="2.7"/><circle cx="295.2" cy="777.1" r="2.7"/><circle cx="298.1" cy="777.7" r="2.7"/><circle cx="301.1" cy="778.3" r="2.7"/><circle cx="304" cy="778.6" r="2.7"/><circle cx="307" cy="778.7" r="2.7"/><circle cx="309.9" cy="778.2" r="2.7"/><circle cx="312.8" cy="777.4" r="2.7"/><circle cx="315.8" cy="776.2" r="2.7"/><circle cx="318.7" cy="775" r="2.7"/><circle cx="321.7" cy="774" r="2.7"/><circle cx="324.6" cy="773.4" r="2.7"/><circle cx="327.5" cy="773.2" r="2.7"/><circle cx="330.5" cy="773" r="2.7"/><circle cx="333.4" cy="772.9" r="2.7"/><circle cx="336.4" cy="772.8" r="2.7"/><circle cx="339.3" cy="772.8" r="2.7"/><circle cx="342.2" cy="772.7" r="2.7"/><circle cx="345.2" cy="772.6" r="2.7"/><circle cx="348.1" cy="772.5" r="2.7"/><circle cx="351.1" cy="772.3" r="2.7"/><circle cx="354" cy="772" r="2.7"/><circle cx="356.9" cy="771.7" r="2.7"/><circle cx="359.9" cy="771.2" r="2.7"/><circle cx="362.8" cy="770.7" r="2.7"/><circle cx="365.8" cy="770" r="2.7"/><circle cx="368.7" cy="769.2" r="2.7"/><circle cx="371.6" cy="768.3" r="2.7"/><circle cx="374.6" cy="766.9" r="2.7"/><circle cx="377.5" cy="764.5" r="2.7"/><circle cx="380.5" cy="760.3" r="2.7"/><circle cx="383.4" cy="749.5" r="2.7"/><circle cx="386.3" cy="738.6" r="2.7"/><circle cx="389.3" cy="724.8" r="2.7"/><circle cx="392.2" cy="706.6" r="2.7"/><circle cx="395.2" cy="689.5" r="2.7"/><circle cx="398.1" cy="678.1" r="2.7"/><circle cx="401" cy="671.7" r="2.7"/><circle cx="404" cy="668.1" r="2.7"/><circle cx="406.9" cy="666" r="2.7"/><circle cx="409.9" cy="664.9" r="2.7"/><circle cx="412.8" cy="664.4" r="2.7"/><circle cx="415.7" cy="664.8" r="2.7"/><circle cx="418.7" cy="665.8" r="2.7"/><circle cx="421.6" cy="667.7" r="2.7"/><circle cx="424.6" cy="670.9" r="2.7"/><circle cx="427.5" cy="676.7" r="2.7"/><circle cx="430.4" cy="687.9" r="2.7"/><circle cx="433.4" cy="711" r="2.7"/><circle cx="436.3" cy="726.5" r="2.7"/><circle cx="439.3" cy="739.9" r="2.7"/><circle cx="442.2" cy="753.4" r="2.7"/><circle cx="445.1" cy="762.8" r="2.7"/><circle cx="448.1" cy="766.7" r="2.7"/><circle cx="451" cy="768.5" r="2.7"/><circle cx="454" cy="769.4" r="2.7"/><circle cx="456.9" cy="770" r="2.7"/><circle cx="459.8" cy="770.5" r="2.7"/><circle cx="462.8" cy="771.2" r="2.7"/><circle cx="465.7" cy="772.2" r="2.7"/><circle cx="468.7" cy="773.3" r="2.7"/><circle cx="471.6" cy="774.4" r="2.7"/><circle cx="474.5" cy="775.6" r="2.7"/><circle cx="477.5" cy="776.8" r="2.7"/><circle cx="480.4" cy="777.9" r="2.7"/><circle cx="483.4" cy="779.2" r="2.7"/><circle cx="486.3" cy="780.5" r="2.7"/><circle cx="489.2" cy="781.8" r="2.7"/><circle cx="492.2" cy="782.6" r="2.7"/><circle cx="495.1" cy="782.9" r="2.7"/><circle cx="498.1" cy="782.8" r="2.7"/><circle cx="501" cy="782.6" r="2.7"/><circle cx="503.9" cy="782.3" r="2.7"/><circle cx="506.9" cy="782" r="2.7"/><circle cx="509.8" cy="781.6" r="2.7"/><circle cx="512.8" cy="781.2" r="2.7"/><circle cx="515.7" cy="780.8" r="2.7"/><circle cx="518.6" cy="780.4" r="2.7"/><circle cx="521.6" cy="779.9" r="2.7"/><circle cx="524.5" cy="779.3" r="2.7"/><circle cx="527.5" cy="778.7" r="2.7"/><circle cx="530.4" cy="778.2" r="2.7"/><circle cx="533.3" cy="777.8" r="2.7"/><circle cx="536.3" cy="777.6" r="2.7"/><circle cx="539.2" cy="777.6" r="2.7"/><circle cx="542.2" cy="777.8" r="2.7"/><circle cx="545.1" cy="778" r="2.7"/><circle cx="548" cy="778.3" r="2.7"/><circle cx="551" cy="778.7" r="2.7"/><circle cx="553.9" cy="779.1" r="2.7"/><circle cx="556.9" cy="779.5" r="2.7"/><circle cx="559.8" cy="779.8" r="2.7"/><circle cx="562.7" cy="780.2" r="2.7"/><circle cx="565.7" cy="780.7" r="2.7"/><circle cx="568.6" cy="781.2" r="2.7"/><circle cx="571.6" cy="782" r="2.7"/><circle cx="574.5" cy="783.4" r="2.7"/><circle cx="577.4" cy="784.6" r="2.7"/><circle cx="580.4" cy="785.2" r="2.7"/><circle cx="583.3" cy="785.6" r="2.7"/><circle cx="586.3" cy="785.9" r="2.7"/><circle cx="589.2" cy="786.1" r="2.7"/><circle cx="592.1" cy="786.1" r="2.7"/><circle cx="595.1" cy="786.1" r="2.7"/><circle cx="598" cy="786" r="2.7"/><circle cx="601" cy="785.8" r="2.7"/><circle cx="603.9" cy="785.7" r="2.7"/><circle cx="606.8" cy="785.5" r="2.7"/><circle cx="609.8" cy="785.3" r="2.7"/><circle cx="612.7" cy="785.1" r="2.7"/><circle cx="615.7" cy="784.9" r="2.7"/><circle cx="618.6" cy="784.6" r="2.7"/><circle cx="621.5" cy="784.3" r="2.7"/><circle cx="624.5" cy="783.9" r="2.7"/><circle cx="627.4" cy="783.6" r="2.7"/><circle cx="630.4" cy="783.3" r="2.7"/><circle cx="633.3" cy="783.1" r="2.7"/><circle cx="636.2" cy="782.9" r="2.7"/><circle cx="639.2" cy="782.9" r="2.7"/><circle cx="642.1" cy="783.1" r="2.7"/><circle cx="645.1" cy="783.4" r="2.7"/><circle cx="648" cy="783.8" r="2.7"/><circle cx="650.9" cy="784.3" r="2.7"/><circle cx="653.9" cy="784.9" r="2.7"/><circle cx="656.8" cy="785.5" r="2.7"/><circle cx="659.8" cy="786.1" r="2.7"/><circle cx="662.7" cy="786.7" r="2.7"/><circle cx="665.6" cy="787.1" r="2.7"/><circle cx="668.6" cy="787.6" r="2.7"/><circle cx="671.5" cy="787.9" r="2.7"/><circle cx="674.5" cy="788.3" r="2.7"/><circle cx="677.4" cy="788.7" r="2.7"/><circle cx="680.3" cy="789.1" r="2.7"/><circle cx="683.3" cy="789.4" r="2.7"/><circle cx="686.2" cy="789.8" r="2.7"/><circle cx="689.2" cy="790.1" r="2.7"/><circle cx="692.1" cy="790.4" r="2.7"/></g>
<path d="M133.5 1061 L136.4 1061 L139.4 1060.9 L142.3 1060.8 L145.3 1060.6 L148.2 1060.4 L151.1 1060.2 L154.1 1059.9 L157 1059.4 L160 1058.6 L162.9 1057.7 L165.8 1056.7 L168.8 1055.5 L171.7 1054.4 L174.7 1053.2 L177.6 1051.9 L180.5 1050.5 L183.5 1048.9 L186.4 1047.2 L189.4 1045.7 L192.3 1044.2 L195.2 1042.9 L198.2 1041.6 L201.1 1040.3 L204.1 1039 L207 1037.8 L209.9 1037 L212.9 1036.5 L215.8 1036.6 L218.8 1037 L221.7 1037.7 L224.6 1038.4 L227.6 1039 L230.5 1039.3 L233.5 1039.6 L236.4 1039.8 L239.3 1040 L242.3 1040.1 L245.2 1040.2 L248.2 1040.3 L251.1 1040.1 L254 1039.5 L257 1038.6 L259.9 1037.5 L262.9 1036.2 L265.8 1034.5 L268.7 1032.7 L271.7 1031.1 L274.6 1029.5 L277.6 1027.9 L280.5 1026.2 L283.4 1024 L286.4 1021.8 L289.3 1020.6 L292.3 1020.6 L295.2 1020.8 L298.1 1021.2 L301.1 1021.7 L304 1022.8 L307 1024.2 L309.9 1025.5 L312.8 1026.5 L315.8 1027.6 L318.7 1028.3 L321.7 1028.7 L324.6 1028.9 L327.5 1029.1 L330.5 1029.3 L333.4 1029.4 L336.4 1029.5 L339.3 1029.5 L342.2 1029.3 L345.2 1029 L348.1 1028.5 L351.1 1027.9 L354 1027 L356.9 1025 L359.9 1021 L362.8 1016.7 L365.8 1011.9 L368.7 1008 L371.6 1002.9 L374.6 998.4 L377.5 983.3 L380.5 956.6 L383.4 921 L386.3 877.4 L389.3 830.6 L392.2 785.2 L395.2 748.5 L398.1 717 L401 694.2 L404 678.4 L406.9 672.3 L409.9 667 L412.8 666.5 L415.7 667 L418.7 672.3 L421.6 678.9 L424.6 694.7 L427.5 717 L430.4 750.8 L433.4 788.7 L436.3 834 L439.3 878.6 L442.2 921.8 L445.1 954.9 L448.1 977.1 L451 990.1 L454 996.6 L456.9 1001.5 L459.8 1006.9 L462.8 1012.3 L465.7 1016.7 L468.7 1020.1 L471.6 1022 L474.5 1022.9 L477.5 1023.6 L480.4 1024.1 L483.4 1024.4 L486.3 1024.7 L489.2 1024.9 L492.2 1025.1 L495.1 1025.2 L498.1 1025.4 L501 1025.5 L503.9 1025.5 L506.9 1025.4 L509.8 1025 L512.8 1024.4 L515.7 1023.9 L518.6 1023.5 L521.6 1023.5 L524.5 1023.5 L527.5 1023.5 L530.4 1023.9 L533.3 1024.6 L536.3 1025.3 L539.2 1025.9 L542.2 1026.1 L545.1 1026.3 L548 1026.5 L551 1027.4 L553.9 1029.1 L556.9 1031 L559.8 1032.3 L562.7 1033.1 L565.7 1033.9 L568.6 1034.8 L571.6 1036.5 L574.5 1039 L577.4 1041.5 L580.4 1043.3 L583.3 1044.1 L586.3 1044.9 L589.2 1045.6 L592.1 1046.1 L595.1 1046.5 L598 1046.8 L601 1047 L603.9 1046.9 L606.8 1046.4 L609.8 1045.6 L612.7 1044.7 L615.7 1043.7 L618.6 1042.3 L621.5 1040.7 L624.5 1039 L627.4 1037.3 L630.4 1035.7 L633.3 1034.3 L636.2 1033.1 L639.2 1031.8 L642.1 1030.4 L645.1 1029.2 L648 1028.2 L650.9 1027.4 L653.9 1027 L656.8 1027.1 L659.8 1027.7 L662.7 1028.7 L665.6 1029.9 L668.6 1031 L671.5 1032.1 L674.5 1032.8 L677.4 1033 L680.3 1033 L683.3 1033 L686.2 1033 L689.2 1033 L692.1 1033" fill="none" stroke="#000" stroke-width="2.9" stroke-linejoin="round"/>
<path d="M133.5 1049.4L143.5 1066.8L123.5 1066.8ZM136.4 1049.4L146.5 1066.8L126.4 1066.8ZM139.4 1049.3L149.4 1066.7L129.3 1066.7ZM142.3 1049.2L152.4 1066.6L132.3 1066.6ZM145.3 1049L155.3 1066.4L135.2 1066.4ZM148.2 1048.8L158.2 1066.2L138.2 1066.2ZM151.1 1048.6L161.2 1066L141.1 1066ZM154.1 1048.3L164.1 1065.7L144 1065.7ZM157 1047.8L167.1 1065.2L147 1065.2ZM160 1047L170 1064.4L149.9 1064.4ZM162.9 1046.1L172.9 1063.5L152.9 1063.5ZM165.8 1045.1L175.9 1062.5L155.8 1062.5ZM168.8 1043.9L178.8 1061.3L158.7 1061.3ZM171.7 1042.8L181.8 1060.2L161.7 1060.2ZM174.7 1041.6L184.7 1059L164.6 1059ZM177.6 1040.3L187.6 1057.7L167.6 1057.7ZM180.5 1038.9L190.6 1056.3L170.5 1056.3ZM183.5 1037.3L193.5 1054.7L173.4 1054.7ZM186.4 1035.6L196.5 1053L176.4 1053ZM189.4 1034.1L199.4 1051.5L179.3 1051.5ZM192.3 1032.6L202.3 1050L182.3 1050ZM195.2 1031.3L205.3 1048.7L185.2 1048.7ZM198.2 1030L208.2 1047.4L188.1 1047.4ZM201.1 1028.7L211.2 1046.1L191.1 1046.1ZM204.1 1027.4L214.1 1044.8L194 1044.8ZM207 1026.2L217 1043.6L197 1043.6ZM209.9 1025.4L220 1042.8L199.9 1042.8ZM212.9 1024.9L222.9 1042.3L202.8 1042.3ZM215.8 1025L225.9 1042.4L205.8 1042.4ZM218.8 1025.4L228.8 1042.8L208.7 1042.8ZM221.7 1026.1L231.7 1043.5L211.7 1043.5ZM224.6 1026.8L234.7 1044.2L214.6 1044.2ZM227.6 1027.4L237.6 1044.8L217.5 1044.8ZM230.5 1027.7L240.6 1045.1L220.5 1045.1ZM233.5 1028L243.5 1045.4L223.4 1045.4ZM236.4 1028.2L246.4 1045.6L226.4 1045.6ZM239.3 1028.4L249.4 1045.8L229.3 1045.8ZM242.3 1028.5L252.3 1045.9L232.2 1045.9ZM245.2 1028.6L255.3 1046L235.2 1046ZM248.2 1028.7L258.2 1046.1L238.1 1046.1ZM251.1 1028.5L261.1 1045.9L241.1 1045.9ZM254 1027.9L264.1 1045.3L244 1045.3ZM257 1027L267 1044.4L246.9 1044.4ZM259.9 1025.9L270 1043.3L249.9 1043.3ZM262.9 1024.6L272.9 1042L252.8 1042ZM265.8 1022.9L275.8 1040.3L255.8 1040.3ZM268.7 1021.1L278.8 1038.5L258.7 1038.5ZM271.7 1019.5L281.7 1036.9L261.6 1036.9ZM274.6 1017.9L284.7 1035.3L264.6 1035.3ZM277.6 1016.3L287.6 1033.7L267.5 1033.7ZM280.5 1014.6L290.5 1032L270.5 1032ZM283.4 1012.4L293.5 1029.8L273.4 1029.8ZM286.4 1010.2L296.4 1027.6L276.3 1027.6ZM289.3 1009L299.4 1026.4L279.3 1026.4ZM292.3 1009L302.3 1026.4L282.2 1026.4ZM295.2 1009.2L305.2 1026.6L285.2 1026.6ZM298.1 1009.6L308.2 1027L288.1 1027ZM301.1 1010.1L311.1 1027.5L291 1027.5ZM304 1011.2L314.1 1028.6L294 1028.6ZM307 1012.6L317 1030L296.9 1030ZM309.9 1013.9L319.9 1031.3L299.9 1031.3ZM312.8 1014.9L322.9 1032.3L302.8 1032.3ZM315.8 1016L325.8 1033.4L305.7 1033.4ZM318.7 1016.7L328.8 1034.1L308.7 1034.1ZM321.7 1017.1L331.7 1034.5L311.6 1034.5ZM324.6 1017.3L334.6 1034.7L314.6 1034.7ZM327.5 1017.5L337.6 1034.9L317.5 1034.9ZM330.5 1017.7L340.5 1035.1L320.4 1035.1ZM333.4 1017.8L343.5 1035.2L323.4 1035.2ZM336.4 1017.9L346.4 1035.3L326.3 1035.3ZM339.3 1017.9L349.3 1035.3L329.3 1035.3ZM342.2 1017.7L352.3 1035.1L332.2 1035.1ZM345.2 1017.4L355.2 1034.8L335.1 1034.8ZM348.1 1016.9L358.2 1034.3L338.1 1034.3ZM351.1 1016.3L361.1 1033.7L341 1033.7ZM354 1015.4L364 1032.8L344 1032.8ZM356.9 1013.4L367 1030.8L346.9 1030.8ZM359.9 1009.4L369.9 1026.8L349.8 1026.8ZM362.8 1005.1L372.9 1022.5L352.8 1022.5ZM365.8 1000.3L375.8 1017.7L355.7 1017.7ZM368.7 996.4L378.7 1013.8L358.7 1013.8ZM371.6 991.3L381.7 1008.7L361.6 1008.7ZM374.6 986.8L384.6 1004.2L364.5 1004.2ZM377.5 971.7L387.6 989.1L367.5 989.1ZM380.5 945L390.5 962.4L370.4 962.4ZM383.4 909.4L393.4 926.8L373.4 926.8ZM386.3 865.8L396.4 883.2L376.3 883.2ZM389.3 819L399.3 836.4L379.2 836.4ZM392.2 773.6L402.3 791L382.2 791ZM395.2 736.9L405.2 754.3L385.1 754.3ZM398.1 705.4L408.1 722.8L388.1 722.8ZM401 682.6L411.1 700L391 700ZM404 666.8L414 684.2L393.9 684.2ZM406.9 660.7L417 678.1L396.9 678.1ZM409.9 655.4L419.9 672.8L399.8 672.8ZM412.8 654.9L422.8 672.3L402.8 672.3ZM415.7 655.4L425.8 672.8L405.7 672.8ZM418.7 660.7L428.7 678.1L408.6 678.1ZM421.6 667.3L431.7 684.7L411.6 684.7ZM424.6 683.1L434.6 700.5L414.5 700.5ZM427.5 705.4L437.5 722.8L417.5 722.8ZM430.4 739.2L440.5 756.6L420.4 756.6ZM433.4 777.1L443.4 794.5L423.3 794.5ZM436.3 822.4L446.4 839.8L426.3 839.8ZM439.3 867L449.3 884.4L429.2 884.4ZM442.2 910.2L452.2 927.6L432.2 927.6ZM445.1 943.3L455.2 960.7L435.1 960.7ZM448.1 965.5L458.1 982.9L438 982.9ZM451 978.5L461.1 995.9L441 995.9ZM454 985L464 1002.4L443.9 1002.4ZM456.9 989.9L466.9 1007.3L446.9 1007.3ZM459.8 995.3L469.9 1012.7L449.8 1012.7ZM462.8 1000.7L472.8 1018.1L452.7 1018.1ZM465.7 1005.1L475.8 1022.5L455.7 1022.5ZM468.7 1008.5L478.7 1025.9L458.6 1025.9ZM471.6 1010.4L481.6 1027.8L461.6 1027.8ZM474.5 1011.3L484.6 1028.7L464.5 1028.7ZM477.5 1012L487.5 1029.4L467.4 1029.4ZM480.4 1012.5L490.5 1029.9L470.4 1029.9ZM483.4 1012.8L493.4 1030.2L473.3 1030.2ZM486.3 1013.1L496.3 1030.5L476.3 1030.5ZM489.2 1013.3L499.3 1030.7L479.2 1030.7ZM492.2 1013.5L502.2 1030.9L482.1 1030.9ZM495.1 1013.6L505.2 1031L485.1 1031ZM498.1 1013.8L508.1 1031.2L488 1031.2ZM501 1013.9L511 1031.3L491 1031.3ZM503.9 1013.9L514 1031.3L493.9 1031.3ZM506.9 1013.8L516.9 1031.2L496.8 1031.2ZM509.8 1013.4L519.9 1030.8L499.8 1030.8ZM512.8 1012.8L522.8 1030.2L502.7 1030.2ZM515.7 1012.3L525.7 1029.7L505.7 1029.7ZM518.6 1011.9L528.7 1029.3L508.6 1029.3ZM521.6 1011.9L531.6 1029.3L511.5 1029.3ZM524.5 1011.9L534.6 1029.3L514.5 1029.3ZM527.5 1011.9L537.5 1029.3L517.4 1029.3ZM530.4 1012.3L540.4 1029.7L520.4 1029.7ZM533.3 1013L543.4 1030.4L523.3 1030.4ZM536.3 1013.7L546.3 1031.1L526.2 1031.1ZM539.2 1014.3L549.3 1031.7L529.2 1031.7ZM542.2 1014.5L552.2 1031.9L532.1 1031.9ZM545.1 1014.7L555.1 1032.1L535.1 1032.1ZM548 1014.9L558.1 1032.3L538 1032.3ZM551 1015.8L561 1033.2L540.9 1033.2ZM553.9 1017.5L564 1034.9L543.9 1034.9ZM556.9 1019.4L566.9 1036.8L546.8 1036.8ZM559.8 1020.7L569.8 1038.1L549.8 1038.1ZM562.7 1021.5L572.8 1038.9L552.7 1038.9ZM565.7 1022.3L575.7 1039.7L555.6 1039.7ZM568.6 1023.2L578.7 1040.6L558.6 1040.6ZM571.6 1024.9L581.6 1042.3L561.5 1042.3ZM574.5 1027.4L584.5 1044.8L564.5 1044.8ZM577.4 1029.9L587.5 1047.3L567.4 1047.3ZM580.4 1031.7L590.4 1049.1L570.3 1049.1ZM583.3 1032.5L593.4 1049.9L573.3 1049.9ZM586.3 1033.3L596.3 1050.7L576.2 1050.7ZM589.2 1034L599.2 1051.4L579.2 1051.4ZM592.1 1034.5L602.2 1051.9L582.1 1051.9ZM595.1 1034.9L605.1 1052.3L585 1052.3ZM598 1035.2L608.1 1052.6L588 1052.6ZM601 1035.4L611 1052.8L590.9 1052.8ZM603.9 1035.3L613.9 1052.7L593.9 1052.7ZM606.8 1034.8L616.9 1052.2L596.8 1052.2ZM609.8 1034L619.8 1051.4L599.7 1051.4ZM612.7 1033.1L622.8 1050.5L602.7 1050.5ZM615.7 1032.1L625.7 1049.5L605.6 1049.5ZM618.6 1030.7L628.6 1048.1L608.6 1048.1ZM621.5 1029.1L631.6 1046.5L611.5 1046.5ZM624.5 1027.4L634.5 1044.8L614.4 1044.8ZM627.4 1025.7L637.5 1043.1L617.4 1043.1ZM630.4 1024.1L640.4 1041.5L620.3 1041.5ZM633.3 1022.7L643.3 1040.1L623.3 1040.1ZM636.2 1021.5L646.3 1038.9L626.2 1038.9ZM639.2 1020.2L649.2 1037.6L629.1 1037.6ZM642.1 1018.8L652.2 1036.2L632.1 1036.2ZM645.1 1017.6L655.1 1035L635 1035ZM648 1016.6L658 1034L638 1034ZM650.9 1015.8L661 1033.2L640.9 1033.2ZM653.9 1015.4L663.9 1032.8L643.8 1032.8ZM656.8 1015.5L666.9 1032.9L646.8 1032.9ZM659.8 1016.1L669.8 1033.5L649.7 1033.5ZM662.7 1017.1L672.7 1034.5L652.7 1034.5ZM665.6 1018.3L675.7 1035.7L655.6 1035.7ZM668.6 1019.4L678.6 1036.8L658.5 1036.8ZM671.5 1020.5L681.6 1037.9L661.5 1037.9ZM674.5 1021.2L684.5 1038.6L664.4 1038.6ZM677.4 1021.4L687.4 1038.8L667.4 1038.8ZM680.3 1021.4L690.4 1038.8L670.3 1038.8ZM683.3 1021.4L693.3 1038.8L673.2 1038.8ZM686.2 1021.4L696.3 1038.8L676.2 1038.8ZM689.2 1021.4L699.2 1038.8L679.1 1038.8ZM692.1 1021.4L702.1 1038.8L682.1 1038.8Z" stroke="#000" stroke-width="2.8" fill="none"/>
</g>
<g stroke="#262626" fill="none">
<path d="M103 624.9V1120H724.5" stroke-width="3"/>
<path d="M103 664.4H110.5M103 740.3H110.5M103 816.3H110.5M103 892.2H110.5M103 968.1H110.5M103 1044.1H110.5M258 1120V1112.5M413 1120V1112.5M568 1120V1112.5M723 1120V1112.5" stroke-width="3"/>
</g>
<g font-family="Liberation Sans" fill="#262626">
<text x="89.7" y="678.6" font-size="34.7" text-anchor="end">0</text>
<text x="89.7" y="754.5" font-size="34.7" text-anchor="end">-1</text>
<text x="89.7" y="830.5" font-size="34.7" text-anchor="end">-2</text>
<text x="89.7" y="906.4" font-size="34.7" text-anchor="end">-3</text>
<text x="89.7" y="982.3" font-size="34.7" text-anchor="end">-4</text>
<text x="89.7" y="1058.3" font-size="34.7" text-anchor="end">-5</text>
<text x="89.7" y="1134.2" font-size="34.7" text-anchor="end">-6</text>
<text x="103" y="1169" font-size="34.7" text-anchor="middle">-100</text>
<text x="258" y="1169" font-size="34.7" text-anchor="middle">-50</text>
<text x="413" y="1169" font-size="34.7" text-anchor="middle">0</text>
<text x="568" y="1169" font-size="34.7" text-anchor="middle">50</text>
<text x="723" y="1169" font-size="34.7" text-anchor="middle">100</text>
<text x="413" y="1219.2" font-size="38" text-anchor="middle">Theta (deg.)</text>
<text transform="translate(40.8 873.2) rotate(-90)" font-size="38" text-anchor="middle">Power spectrum (dB)</text>
</g>
<path d="M470.7 830.7H556.7" stroke="#00ff00" stroke-width="2.7"/>
<path d="M504.8 830.7H522.6M513.7 821.8V839.6" stroke="#00ff00" stroke-width="2.7"/>
<path d="M470.7 872.7H556.7" stroke="#0000ff" stroke-width="2.7" stroke-dasharray="21.6 12.8"/>
<path d="M470.7 914.4H556.7" stroke="#ff0000" stroke-width="2.7"/>
<circle cx="513.7" cy="914.4" r="2.7" fill="#ff0000"/>
<path d="M470.7 956.5H556.7" stroke="#000" stroke-width="2.7"/>
<path d="M513.7 945L523.7 962.2L503.7 962.2Z" stroke="#000" stroke-width="2.8" fill="none"/>
<g font-family="Liberation Sans" font-size="31.4" fill="#000">
<text x="562" y="844.6">PW = 2<tspan font-family="Liberation Serif" font-style="italic" font-size="30.8">π</tspan></text>
<text x="562" y="885.8">PW = 1.8<tspan font-family="Liberation Serif" font-style="italic" font-size="30.8">π</tspan></text>
<text x="562" y="927.6">PW = 1.6<tspan font-family="Liberation Serif" font-style="italic" font-size="30.8">π</tspan></text>
<text x="562" y="968.7">PW = 1<tspan font-family="Liberation Serif" font-style="italic" font-size="30.8">π</tspan></text>
</g>
<path d="M407.1 1235.5 Q389.1 1247.8 407.1 1260.1 Q394.3 1247.8 407.1 1235.5 Z" fill="#1a1a1a"/><path d="M431.8 1235.5 Q449.8 1247.8 431.8 1260.1 Q444.6 1247.8 431.8 1235.5 Z" fill="#1a1a1a"/><text x="419.5" y="1259.5" font-family="Liberation Serif" font-size="33" text-anchor="middle" fill="#111" stroke="#111" stroke-width="0.6">b</text>
</svg>
</body></html>
